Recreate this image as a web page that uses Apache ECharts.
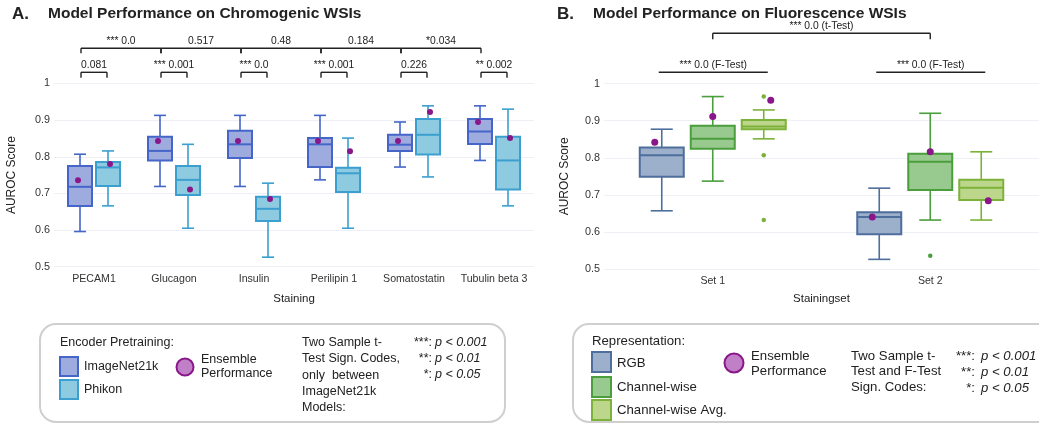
<!DOCTYPE html>
<html><head><meta charset="utf-8">
<script src="https://cdn.jsdelivr.net/npm/echarts@6/dist/echarts.min.js"></script>
<style>html,body{margin:0;padding:0;background:#fff}#c{width:1039px;height:425px}</style>
</head><body><div id="c"></div>
<script>
// ---------- data ----------
const stainings = ['PECAM1', 'Glucagon', 'Insulin', 'Perilipin 1', 'Somatostatin', 'Tubulin beta 3'];
// box: [low whisker, Q1, median, Q3, high whisker]
const imagenetBox = [
  [0.596, 0.666, 0.718, 0.775, 0.807],
  [0.719, 0.790, 0.816, 0.855, 0.913],
  [0.719, 0.797, 0.834, 0.871, 0.913],
  [0.737, 0.772, 0.834, 0.851, 0.913],
  [0.772, 0.816, 0.833, 0.860, 0.895],
  [0.790, 0.835, 0.869, 0.903, 0.939]
];
const imagenetEnsemble = [0.736, 0.843, 0.843, 0.843, 0.843, 0.895];
const phikonBox = [
  [0.666, 0.720, 0.771, 0.786, 0.816],
  [0.605, 0.696, 0.737, 0.775, 0.834],
  [0.526, 0.625, 0.658, 0.691, 0.728],
  [0.605, 0.704, 0.755, 0.770, 0.851],
  [0.745, 0.806, 0.860, 0.903, 0.939],
  [0.666, 0.711, 0.790, 0.855, 0.930]
];
const phikonEnsemble = [0.780, 0.711, 0.685, 0.815, 0.922, 0.851];
const betweenLabels = ['*** 0.0', '0.517', '0.48', '0.184', '*0.034'];
const withinLabels = ['0.081', '*** 0.001', '*** 0.0', '*** 0.001', '0.226', '** 0.002'];

const stainingSets = ['Set 1', 'Set 2'];
const rgbBox = [
  [0.657, 0.749, 0.807, 0.828, 0.877],
  [0.526, 0.594, 0.640, 0.653, 0.718]
];
const rgbEnsemble = [0.842, 0.640];
const cwBox = [
  [0.737, 0.824, 0.851, 0.886, 0.965],
  [0.632, 0.713, 0.789, 0.811, 0.920]
];
const cwEnsemble = [0.911, 0.816];
const cwOutliers = [[1, 0.536]];
const avgBox = [
  [0.851, 0.877, 0.884, 0.902, 0.929],
  [0.632, 0.686, 0.719, 0.741, 0.816]
];
const avgEnsemble = [0.955, 0.684];
const avgOutliers = [[0, 0.965], [0, 0.807], [0, 0.632]];
const tTestLabel = '*** 0.0 (t-Test)';
const fTestLabels = ['*** 0.0 (F-Test)', '*** 0.0 (F-Test)'];

// ---------- styling ----------
const FONT = 'Liberation Sans, Arial, Helvetica, sans-serif';
const TXT = '#222';
const C = {
  imagenet: { fill: '#9eabdf', stroke: '#4565c9' },
  phikon: { fill: '#8ecae0', stroke: '#3b9fcf' },
  rgb: { fill: '#9cafcb', stroke: '#4e6e9c' },
  cw: { fill: '#98c98e', stroke: '#4a9e3c' },
  avg: { fill: '#bcd78c', stroke: '#7db23a' },
  ens: '#8a178a'
};

function boxRender(offset, width, col) {
  return function (params, api) {
    const c = api.value(0);
    const x = api.coord([c, api.value(3)])[0] + offset;
    const y = i => api.coord([c, api.value(i)])[1];
    const yl = y(1), yq1 = y(2), ym = y(3), yq3 = y(4), yh = y(5);
    const hw = width / 2, cw = width / 4;
    const ls = { stroke: col.stroke, lineWidth: 1.6, fill: null };
    return {
      type: 'group', children: [
        { type: 'line', shape: { x1: x, y1: yq3, x2: x, y2: yh }, style: ls },
        { type: 'line', shape: { x1: x, y1: yq1, x2: x, y2: yl }, style: ls },
        { type: 'line', shape: { x1: x - cw, y1: yh, x2: x + cw, y2: yh }, style: ls },
        { type: 'line', shape: { x1: x - cw, y1: yl, x2: x + cw, y2: yl }, style: ls },
        { type: 'rect', shape: { x: x - hw, y: yq3, width: width, height: yq1 - yq3 }, style: { fill: col.fill, stroke: col.stroke, lineWidth: 2 } },
        { type: 'line', shape: { x1: x - hw, y1: ym, x2: x + hw, y2: ym }, style: { stroke: col.stroke, lineWidth: 2 } }
      ]
    };
  };
}
function boxSeries(name, boxes, gi, offset, width, col) {
  return {
    name, type: 'custom', xAxisIndex: gi, yAxisIndex: gi, clip: false, z: 2,
    renderItem: boxRender(offset, width, col),
    encode: { x: 0, y: [1, 2, 3, 4, 5] },
    data: boxes.map((b, i) => [i].concat(b))
  };
}
function dotSeries(name, vals, gi, offset, color, size, z) {
  return {
    name, type: 'scatter', xAxisIndex: gi, yAxisIndex: gi, z: z || 5,
    symbol: 'circle', symbolSize: size, symbolOffset: [offset, 0],
    itemStyle: { color, opacity: 1 }, silent: true,
    data: vals
  };
}
// bracket renderer: data [fromCat, toCat]
function bracketSeries(gi, pairs, labels, off1, off2, yLine, legLen, legs) {
  return {
    type: 'custom', xAxisIndex: gi, yAxisIndex: gi, clip: false, z: 6, silent: true,
    encode: { x: [0, 1] },
    data: pairs,
    renderItem: function (params, api) {
      const x1 = api.coord([api.value(0), 1])[0] + off1;
      const x2 = api.coord([api.value(1), 1])[0] + off2;
      const st = { stroke: '#222', lineWidth: 1.4, fill: null };
      const ch = [{ type: 'line', shape: { x1, y1: yLine, x2, y2: yLine }, style: st }];
      if (legs) {
        ch.push({ type: 'line', shape: { x1, y1: yLine, x2: x1, y2: yLine + legLen }, style: st });
        ch.push({ type: 'line', shape: { x1: x2, y1: yLine, x2: x2, y2: yLine + legLen }, style: st });
      }
      ch.push({
        type: 'text', style: {
          text: labels[params.dataIndex], x: (x1 + x2) / 2, y: yLine - 7.5,
          font: '10.3px ' + FONT, fill: '#222', align: 'center', verticalAlign: 'middle',
          textAlign: 'center', textVerticalAlign: 'middle'
        }
      });
      return { type: 'group', children: ch };
    }
  };
}

function T(text, x, y, opt) {
  opt = opt || {};
  return {
    type: 'text', silent: true, style: {
      text, x, y, font: (opt.italic ? 'italic ' : '') + (opt.bold ? 'bold ' : '') + (opt.size || 12.5) + 'px ' + FONT,
      fill: opt.color || TXT, align: opt.align || 'left', verticalAlign: 'middle',
      textAlign: opt.align || 'left', textVerticalAlign: 'middle'
    }
  };
}
function R(x, y, w, h, col) {
  return { type: 'rect', silent: true, shape: { x, y, width: w, height: h }, style: { fill: col.fill, stroke: col.stroke, lineWidth: 2 } };
}

const yAxisCommon = {
  type: 'value', min: 0.5, max: 1, interval: 0.1,
  name: 'AUROC Score', nameLocation: 'middle', nameGap: 36,
  nameTextStyle: { fontFamily: FONT, fontSize: 12, color: TXT },
  axisLine: { show: false }, axisTick: { show: false },
  axisLabel: { fontFamily: FONT, fontSize: 10.8, color: '#333', margin: 4 },
  splitLine: { lineStyle: { color: '#eef0f6', width: 1 } }
};
const xAxisCommon = {
  type: 'category', boundaryGap: true,
  nameLocation: 'middle', nameGap: 26,
  nameTextStyle: { fontFamily: FONT, fontSize: 11.5, color: TXT },
  axisLine: { show: false }, axisTick: { show: false },
  axisLabel: { fontFamily: FONT, fontSize: 10.6, color: '#333', margin: 7, interval: 0 },
  splitLine: { show: false }
};

const graphics = [
  // titles
  T('A.', 12, 14, { bold: true, size: 17 }),
  T('Model Performance on Chromogenic WSIs', 48, 14, { bold: true, size: 15.5 }),
  T('B.', 557, 14, { bold: true, size: 17 }),
  T('Model Performance on Fluorescence WSIs', 593, 14, { bold: true, size: 15.5 }),
  // left legend
  { type: 'rect', silent: true, shape: { x: 40, y: 324, width: 465, height: 98, r: 16 }, style: { fill: 'none', stroke: '#cfcfcf', lineWidth: 2 } },
  T('Encoder Pretraining:', 60, 343),
  R(60, 357, 18, 19, C.imagenet), T('ImageNet21k', 84, 367),
  R(60, 380, 18, 19, C.phikon), T('Phikon', 84, 390),
  { type: 'circle', silent: true, shape: { cx: 185, cy: 367, r: 8.5 }, style: { fill: '#c07fc6', stroke: C.ens, lineWidth: 2 } },
  T('Ensemble', 201, 360), T('Performance', 201, 374),
  T('Two Sample t-', 302, 343), T('Test Sign. Codes,', 302, 359), T('only  between', 302, 376),
  T('ImageNet21k', 302, 392), T('Models:', 302, 408),
  T('***:', 432, 343, { align: 'right' }), T('**:', 432, 359, { align: 'right' }), T('*:', 432, 375, { align: 'right' }),
  T('p < 0.001', 435, 343, { italic: true }), T('p < 0.01', 435, 359, { italic: true }), T('p < 0.05', 435, 375, { italic: true }),
  // right legend
  { type: 'rect', silent: true, shape: { x: 573, y: 324, width: 480, height: 98, r: 16 }, style: { fill: 'none', stroke: '#cfcfcf', lineWidth: 2 } },
  T('Representation:', 592, 341, { size: 13.2 }),
  R(592, 352, 19, 20, C.rgb), T('RGB', 617, 363, { size: 13.2 }),
  R(592, 377, 19, 20, C.cw), T('Channel-wise', 617, 387, { size: 13.2 }),
  R(592, 400, 19, 20, C.avg), T('Channel-wise Avg.', 617, 410, { size: 13.2 }),
  { type: 'circle', silent: true, shape: { cx: 734, cy: 363, r: 9.5 }, style: { fill: '#c07fc6', stroke: C.ens, lineWidth: 2 } },
  T('Ensemble', 751, 356, { size: 13.2 }), T('Performance', 751, 371, { size: 13.2 }),
  T('Two Sample t-', 851, 356, { size: 13.2 }), T('Test and F-Test', 851, 371, { size: 13.2 }), T('Sign. Codes:', 851, 387, { size: 13.2 }),
  T('***:', 975, 356, { align: 'right', size: 13.2 }), T('**:', 975, 372, { align: 'right', size: 13.2 }), T('*:', 975, 388, { align: 'right', size: 13.2 }),
  T('p < 0.001', 981, 356, { italic: true, size: 13.2 }), T('p < 0.01', 981, 372, { italic: true, size: 13.2 }), T('p < 0.05', 981, 388, { italic: true, size: 13.2 })
];

const option = {
  backgroundColor: '#fff',
  animation: false,
  grid: [
    { left: 54, top: 83.5, width: 480, height: 183.2 },
    { left: 604, top: 83.6, width: 440, height: 185.4 }
  ],
  xAxis: [
    Object.assign({}, xAxisCommon, { gridIndex: 0, data: stainings, name: 'Staining' }),
    Object.assign({}, xAxisCommon, { gridIndex: 1, data: stainingSets, name: 'Stainingset', nameGap: 24 })
  ],
  yAxis: [
    Object.assign({}, yAxisCommon, { gridIndex: 0 }),
    Object.assign({}, yAxisCommon, { gridIndex: 1, nameGap: 33 })
  ],
  graphic: graphics,
  series: [
    boxSeries('ImageNet21k', imagenetBox, 0, -14, 24, C.imagenet),
    boxSeries('Phikon', phikonBox, 0, 14, 24, C.phikon),
    dotSeries('ImageNet21k Ensemble', imagenetEnsemble.map((v, i) => [i, v]), 0, -16, C.ens, 6),
    dotSeries('Phikon Ensemble', phikonEnsemble.map((v, i) => [i, v]), 0, 16, C.ens, 6),
    bracketSeries(0, [[0, 1], [1, 2], [2, 3], [3, 4], [4, 5]], betweenLabels, -13, -13, 48.3, 5, true),
    bracketSeries(0, [[0, 0], [1, 1], [2, 2], [3, 3], [4, 4], [5, 5]], withinLabels, -13, 13, 72.3, 5.5, true),

    boxSeries('RGB', rgbBox, 1, -51, 44, C.rgb),
    boxSeries('Channel-wise', cwBox, 1, 0, 44, C.cw),
    boxSeries('Channel-wise Avg.', avgBox, 1, 51, 44, C.avg),
    dotSeries('Channel-wise outliers', cwOutliers, 1, 0, C.cw.stroke, 4.5, 4),
    dotSeries('Channel-wise Avg. outliers', avgOutliers, 1, 51, C.avg.stroke, 4.5, 4),
    dotSeries('RGB Ensemble', rgbEnsemble.map((v, i) => [i, v]), 1, -58, C.ens, 7),
    dotSeries('Channel-wise Ensemble', cwEnsemble.map((v, i) => [i, v]), 1, 0, C.ens, 7),
    dotSeries('Channel-wise Avg. Ensemble', avgEnsemble.map((v, i) => [i, v]), 1, 58, C.ens, 7),
    bracketSeries(1, [[0, 1]], [tTestLabel], 0, 0, 33.3, 6, true),
    bracketSeries(1, [[0, 0], [1, 1]], fTestLabels, -54, 55, 72.3, 0, false)
  ]
};
const chart = echarts.init(document.getElementById('c'), null, { renderer: 'canvas' });
chart.setOption(option);
</script>
</body></html>
